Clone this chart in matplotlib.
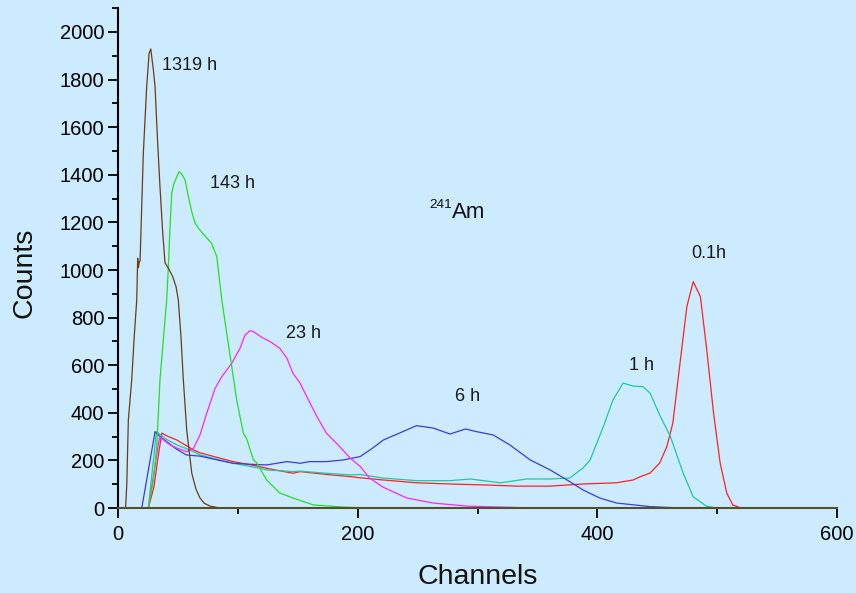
import matplotlib
matplotlib.use("Agg")
import matplotlib.pyplot as plt
from matplotlib.ticker import MultipleLocator

# ---------------- data ----------------
ch_1319 = [0, 6.3, 7.3, 8.6, 11.4, 13.5, 15.6, 16.4, 17.0, 17.6, 18.4, 21.1, 23.9, 25.9, 27.3,
           29.5, 30.9, 32.8, 35.0, 37.3, 39.2, 42.0, 45.6, 48.4, 50.3, 52.5, 54.5, 57.3, 61.5,
           65.0, 68.4, 72.0, 76.8, 85, 600]
cnt_1319 = [0, 0, 100, 370, 538, 720, 874, 1050, 1010, 1030, 1040, 1490, 1770, 1910, 1929,
            1840, 1770, 1560, 1350, 1155, 1030, 1008, 972, 930, 874, 720, 538, 328, 147,
            80, 42, 20, 8, 0, 0]

ch_143 = [0, 25.3, 29.5, 32.3, 35.0, 38.0, 40.6, 42.0, 43.4, 44.8, 46.7, 50.9, 53.0, 56.0,
          58.7, 61.5, 64.3, 67.0, 72.6, 78.0, 82.4, 86.6, 90.7, 94.9, 99.0, 104.6, 107.4,
          113.0, 115.8, 124.0, 135.0, 146.0, 163.0, 188.0, 210, 600]
cnt_143 = [0, 0, 118, 258, 538, 720, 874, 1014, 1182, 1322, 1365, 1413, 1405, 1378,
           1308, 1245, 1197, 1176, 1143, 1113, 1056, 874, 734, 594, 454, 314, 290,
           202, 190, 118, 63, 42, 13, 4, 0, 0]

ch_23 = [0, 25.3, 29.5, 33.7, 35.0, 39.0, 43.4, 50.0, 57.3, 63.0, 68.4, 74.0, 81.0, 86.6,
         94.9, 101.8, 106.0, 110.2, 113.0, 120.0, 127.0, 135.0, 141.0, 146.0, 152.0, 157.5,
         166.0, 174.0, 185.0, 193.7, 202.0, 210.0, 221.0, 241.0, 263.0, 291.0, 319.0, 350, 600]
cnt_23 = [0, 0, 132, 272, 300, 282, 265, 250, 237, 251, 307, 398, 503, 552,
          608, 671, 727, 745, 741, 717, 699, 671, 629, 566, 524, 468,
          384, 314, 258, 210, 175, 126, 88, 42, 21, 8, 4, 0, 0]

ch_6 = [0, 19.8, 30.9, 35.0, 40.6, 48.0, 57.0, 68.4, 80.0, 96.0, 110.0, 124.0, 141.0, 152.0,
        160.0, 174.0, 188.0, 202.0, 212.0, 221.5, 235.0, 249.0, 263.0, 277.0, 290.0, 299.0,
        313.0, 327.0, 344.0, 360.6, 377.0, 388.0, 402.0, 416.0, 444.0, 470, 600]
cnt_6 = [0, 0, 321, 300, 279, 250, 223, 218, 205, 188, 184, 181, 195, 188,
         195, 195, 202, 216, 250, 286, 315, 346, 336, 311, 332, 321,
         307, 265, 202, 160, 111, 76, 42, 21, 6, 0, 0]

ch_1 = [0, 25.3, 32.0, 40.0, 49.0, 63.0, 68.4, 90.7, 96.0, 118.5, 124.0, 146.0, 152.0, 174.0,
        193.7, 202.0, 221.0, 249.0, 277.0, 294.0, 319.0, 341.0, 360.6, 377.0, 388.0, 394.0,
        405.0, 413.0, 421.5, 430.0, 438.0, 444.0, 452.0, 461.0, 471.6, 480.0, 491.0, 500, 600]
cnt_1 = [0, 0, 321, 290, 265, 237, 223, 195, 188, 167, 160, 153, 155, 146,
         139, 141, 126, 115, 115, 122, 106, 122, 122, 126, 168, 202,
         342, 454, 525, 512, 510, 483, 391, 300, 147, 47, 8, 0, 0]

ch_01 = [0, 25.3, 30.0, 33.0, 36.5, 42.0, 49.0, 63.0, 68.4, 90.7, 96.0, 118.5, 124.0, 146.0,
         152.0, 174.0, 193.7, 202.0, 221.0, 249.0, 277.0, 305.0, 333.0, 360.6, 388.0, 416.0,
         430.0, 436.0, 444.0, 452.0, 458.0, 463.0, 469.0, 474.7, 480.0, 486.0, 491.0, 497.0,
         502.5, 508.0, 513.0, 520, 600]
cnt_01 = [0, 0, 90, 200, 315, 300, 286, 244, 232, 202, 195, 174, 167, 146,
          153, 141, 132, 127, 118, 106, 101, 97, 92, 92, 101, 106,
          118, 132, 147, 189, 258, 357, 609, 846, 951, 888, 678, 398,
          189, 63, 13, 0, 0]

series = [
    (ch_01, cnt_01, "#FF2020"),
    (ch_1, cnt_1, "#20C8A0"),
    (ch_6, cnt_6, "#3C3CDC"),
    (ch_23, cnt_23, "#FF22FF"),
    (ch_143, cnt_143, "#22E022"),
    (ch_1319, cnt_1319, "#6E3B12"),
]

labels = ["1319 h", "143 h", "23 h", "6 h", "1 h", "0.1h"]
label_x = [36.4, 76.8, 140.2, 281.3, 426.5, 478.0]
label_y = [1861, 1363, 734, 468, 597, 1069]

x_ticks = [0, 200, 400, 600]
y_ticks = list(range(0, 2001, 200))

# ---------------- figure ----------------
BG = "#CCEBFF"
plt.rcParams['font.family'] = ['Liberation Sans', 'DejaVu Sans']

fig = plt.figure(figsize=(8.56, 5.93), dpi=100, facecolor=BG)
ax = fig.add_axes([0.1379, 0.1433, 0.9778 - 0.1379, 0.9862 - 0.1433])
ax.set_facecolor(BG)

for xs, ys, c in series:
    ax.plot(xs, ys, color=c, lw=0.9, zorder=3)

ax.set_xlim(0, 600)
ax.set_ylim(0, 2100)
ax.set_xticks(x_ticks)
ax.set_yticks(y_ticks)
ax.xaxis.set_minor_locator(MultipleLocator(100))
ax.yaxis.set_minor_locator(MultipleLocator(100))

for s in ["top", "right"]:
    ax.spines[s].set_visible(False)
ax.spines["left"].set_linewidth(1.5)
ax.spines["bottom"].set_linewidth(1.5)
ax.spines["bottom"].set_color("#55502A")
ax.spines["bottom"].set_zorder(4)

ax.tick_params(axis="both", which="major", direction="out", length=7.5, width=1.3,
               labelsize=14.5, colors="black")
ax.tick_params(axis="both", which="minor", direction="out", length=4.5, width=1.3)
ax.tick_params(axis="y", which="major", pad=2.5)
ax.tick_params(axis="x", which="major", pad=5)

ax.set_xlabel("Channels", fontsize=20.5, color="#111111")
ax.xaxis.set_label_coords(0.5, -0.1375)
ax.xaxis.label.set_va("center")
ax.set_ylabel("Counts", fontsize=20.5, color="#111111")
ax.yaxis.set_label_coords(-0.1307, 0.4696)
ax.yaxis.label.set_va("center")

for t, x, y in zip(labels, label_x, label_y):
    ax.text(x, y, t, fontsize=13, ha="left", va="center", color="#1A1A1A", zorder=5)

ax.text(278.8, 1218, "Am", fontsize=16, ha="left", va="baseline", color="#111111")
ax.text(278.6, 1262, "241", fontsize=9.7, ha="right", va="baseline", color="#111111")

fig.savefig("out.png", dpi=100, facecolor=BG)
